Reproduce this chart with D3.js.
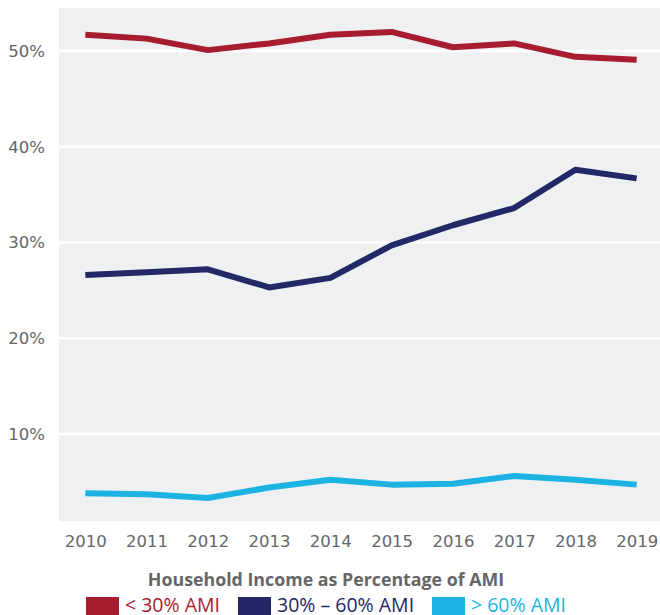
<!DOCTYPE html>
<html><head><meta charset="utf-8">
<script src="https://cdn.jsdelivr.net/npm/d3@7"></script>
<style>body{margin:0;background:#fff;}svg{display:block;}</style>
</head><body>
<svg id="c" width="660" height="615"></svg>
<script>
const years = ["2010","2011","2012","2013","2014","2015","2016","2017","2018","2019"];
const below30 = [51.7, 51.3, 50.1, 50.8, 51.7, 52.0, 50.4, 50.8, 49.4, 49.1];
const from30to60 = [26.6, 26.9, 27.2, 25.3, 26.3, 29.7, 31.8, 33.6, 37.6, 36.7];
const above60 = [3.8, 3.7, 3.3, 4.4, 5.2, 4.7, 4.8, 5.6, 5.2, 4.7];
const yTicks = [10, 20, 30, 40, 50];
const seriesNames = ["< 30% AMI", "30% \u2013 60% AMI", "> 60% AMI"];
const seriesColors = ["#A71C2F", "#232866", "#1CB3E3"];
const axisTitle = "Household Income as Percentage of AMI";

const series = [below30, from30to60, above60];
const svg = d3.select("#c");
const L = 59, R = 663, T = 8, B = 521;

const x = d3.scalePoint().domain(years).range([L, R]).padding(0.43);
const y = d3.scaleLinear().domain([0.9, 54.5]).range([B, T]);

svg.append("rect").attr("x", L).attr("y", T).attr("width", R - L).attr("height", B - T).attr("fill", "#EFF0F2");

svg.append("g").selectAll("line").data(yTicks).join("line")
  .attr("x1", L).attr("x2", R).attr("y1", d => y(d)).attr("y2", d => y(d))
  .attr("stroke", "#fff").attr("stroke-width", 2.5);

const yAxis = svg.append("g").attr("transform", `translate(${L},0)`)
  .call(d3.axisLeft(y).tickValues(yTicks).tickFormat(d => d + "%").tickSize(0).tickPadding(14));
yAxis.select(".domain").remove();
yAxis.selectAll("text").attr("font-family", "DejaVu Sans").attr("font-size", 16.5).attr("fill", "#666");

const xAxis = svg.append("g").attr("transform", `translate(0,${B})`)
  .call(d3.axisBottom(x).tickSize(0).tickPadding(14));
xAxis.select(".domain").remove();
xAxis.selectAll("text").attr("font-family", "DejaVu Sans").attr("font-size", 16.5).attr("fill", "#666");

const line = d3.line().x((d, i) => x(years[i])).y(d => y(d));
svg.append("g").selectAll("path").data(series).join("path")
  .attr("d", line).attr("fill", "none")
  .attr("stroke", (d, i) => seriesColors[i]).attr("stroke-width", 6)
  .attr("stroke-linejoin", "round");

svg.append("text").attr("x", 326).attr("y", 586).attr("text-anchor", "middle")
  .attr("font-family", "Open Sans").attr("font-weight", "bold").attr("font-size", 17.8)
  .attr("fill", "#666").text(axisTitle);

const legX = [86, 238, 432];
const lg = svg.append("g").selectAll("g").data(seriesNames).join("g")
  .attr("transform", (d, i) => `translate(${legX[i]},597)`);
lg.append("rect").attr("width", 33).attr("height", 18).attr("fill", (d, i) => seriesColors[i]);
lg.append("text").attr("x", 39).attr("y", 15).attr("font-family", "Open Sans").attr("font-size", 19.5)
  .attr("fill", (d, i) => seriesColors[i]).text(d => d);
</script>
</body></html>
